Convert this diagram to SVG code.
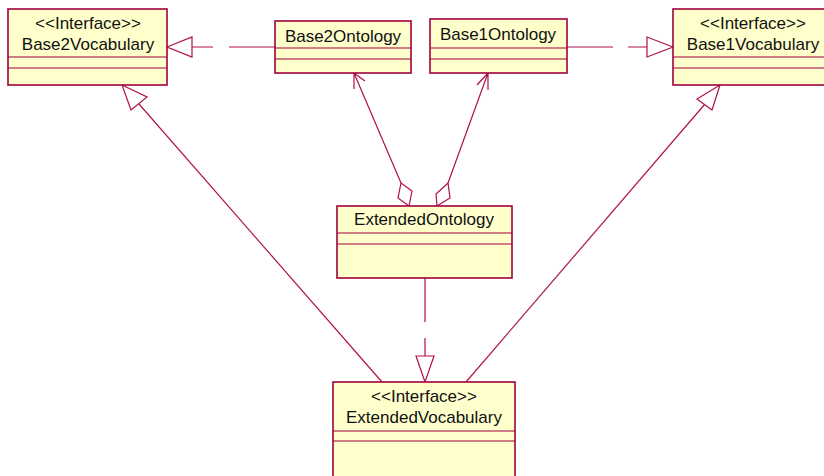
<svg xmlns="http://www.w3.org/2000/svg" width="824" height="476" viewBox="0 0 824 476">
<style>
.box{fill:#FFFFCC;stroke:#A0003C;stroke-width:1.6}
.sep{stroke:#A0003C;stroke-width:1.2}
.t{font-family:"Liberation Sans",Arial,sans-serif;font-size:17px;fill:#111;text-anchor:middle}
.c{fill:none;stroke:#B0104A;stroke-width:1.2}
.tri{fill:#fff;stroke:#B0104A;stroke-width:1.2}
</style>
<rect width="824" height="476" fill="#fff"/>
<g id="connectors">
<path class="c" d="M275,47 H229 M213,47 H192"/>
<polygon class="tri" points="167,47 192,37 192,57"/>
<path class="c" d="M567,47 H613 M628,47 H647"/>
<polygon class="tri" points="673,47 647,37 647,57"/>
<path class="c" d="M425,278 V322 M425,338 V356"/>
<polygon class="tri" points="425,382 416,356 434,356"/>
<path class="c" d="M382,382 L139,104"/>
<polygon class="tri" points="122,85 147,97 131,110"/>
<path class="c" d="M466,382 L705,104"/>
<polygon class="tri" points="720,85 697,99 712,110"/>
<path class="c" d="M401,183 L354,73 M354,73 V89 M354,73 L365,81"/>
<polygon class="tri" points="409,206 398,198 401,183 412,191"/>
<path class="c" d="M448,183 L488,73 M488,73 V90 M488,73 L477,85"/>
<polygon class="tri" points="437,206 436,194 448,183 450,198"/>
</g>
<g id="Base2Vocabulary">
<rect class="box" x="8" y="9" width="159" height="76"/>
<line class="sep" x1="8" y1="57" x2="167" y2="57"/>
<line class="sep" x1="8" y1="68" x2="167" y2="68"/>
<text class="t" x="88" y="29">&lt;&lt;Interface&gt;&gt;</text>
<text class="t" x="88" y="50">Base2Vocabulary</text>
</g>
<g id="Base2Ontology">
<rect class="box" x="275" y="21" width="136" height="52"/>
<line class="sep" x1="275" y1="48" x2="411" y2="48"/>
<line class="sep" x1="275" y1="59" x2="411" y2="59"/>
<text class="t" x="343" y="42">Base2Ontology</text>
</g>
<g id="Base1Ontology">
<rect class="box" x="430" y="19" width="137" height="54"/>
<line class="sep" x1="430" y1="48" x2="567" y2="48"/>
<line class="sep" x1="430" y1="59" x2="567" y2="59"/>
<text class="t" x="498" y="40">Base1Ontology</text>
</g>
<g id="Base1Vocabulary">
<rect class="box" x="673" y="9" width="159" height="76"/>
<line class="sep" x1="673" y1="57" x2="832" y2="57"/>
<line class="sep" x1="673" y1="68" x2="832" y2="68"/>
<text class="t" x="753" y="29">&lt;&lt;Interface&gt;&gt;</text>
<text class="t" x="753" y="50">Base1Vocabulary</text>
</g>
<g id="ExtendedOntology">
<rect class="box" x="337" y="206" width="175" height="72"/>
<line class="sep" x1="337" y1="233" x2="512" y2="233"/>
<line class="sep" x1="337" y1="244" x2="512" y2="244"/>
<text class="t" x="424" y="225">ExtendedOntology</text>
</g>
<g id="ExtendedVocabulary">
<rect class="box" x="333" y="382" width="182" height="100"/>
<line class="sep" x1="333" y1="431" x2="515" y2="431"/>
<line class="sep" x1="333" y1="441" x2="515" y2="441"/>
<text class="t" x="424" y="402">&lt;&lt;Interface&gt;&gt;</text>
<text class="t" x="424" y="423">ExtendedVocabulary</text>
</g>
</svg>
